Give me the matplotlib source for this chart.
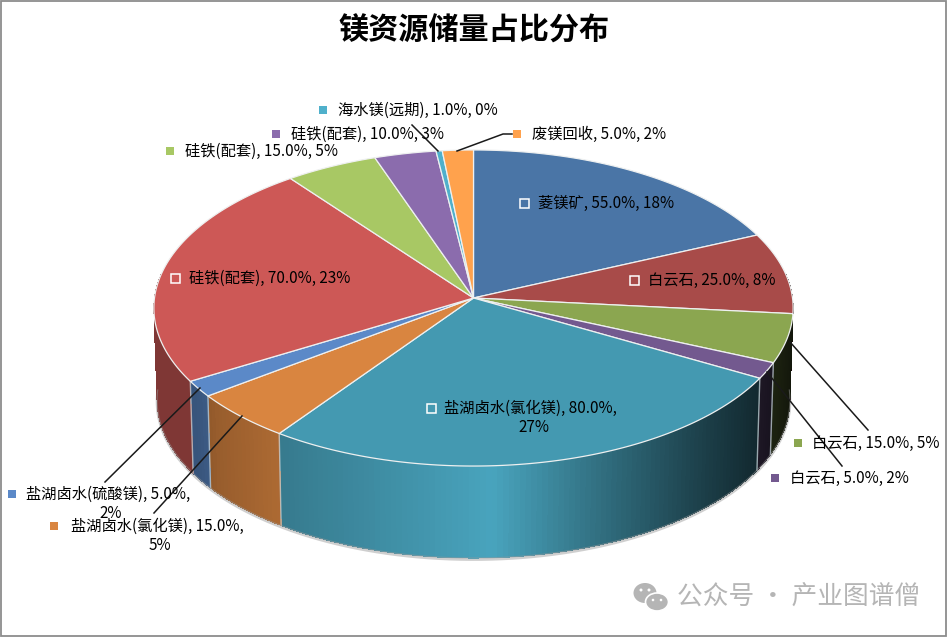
import matplotlib
matplotlib.use('Agg')
import matplotlib.pyplot as plt
from matplotlib.patches import Ellipse, Rectangle
import numpy as np

plt.rcParams['font.family'] = ['Noto Sans CJK SC', 'DejaVu Sans']

names = ['菱镁矿', '白云石', '白云石', '白云石', '盐湖卤水(氯化镁)', '盐湖卤水(氯化镁)',
         '盐湖卤水(硫酸镁)', '硅铁(配套)', '硅铁(配套)', '硅铁(配套)', '海水镁(远期)', '废镁回收']
values = [55, 25, 15, 5, 80, 15, 5, 70, 15, 10, 1, 5]
title = '镁资源储量占比分布'
watermark = '公众号 · 产业图谱僧'

colors = ['#4a75a6', '#a84b49', '#8ba650', '#73598f', '#4499b1', '#d98540',
          '#5b89c8', '#cd5856', '#a8c864', '#8b6cad', '#4fb0cb', '#ffa24d']

# key x, text x, y of first line, x of the wrapped line (None = one line)
label_pos = [(524, 538, 203, None), (634, 648, 280, None), (798, 812, 443, None),
             (775, 790, 478, None), (431, 444, 408, 534), (54, 71, 526, 160),
             (12, 26, 494, 111), (175, 189, 278, None), (170, 185, 151, None),
             (276, 291, 134, None), (323, 338, 110, None), (517, 532, 134, None)]
inside = [0, 1, 4, 7]

leaders = [[(457, 151), (503, 134), (512, 134)], [(412, 125), (438, 151)],
           [(790, 342), (868, 430)], [(767, 372), (842, 466)],
           [(200, 388), (105, 482)], [(242, 416), (154, 513)]]

# pie geometry in pixels, slight perspective
cx, cy = 473.5, 298
R, S, k = 319, 157.4, 0.0633
depth = 92

# side brightness across the pie
shade_x = [150, 195, 215, 280, 400, 490, 600, 700, 757, 775, 795]
shade_f = [0.62, 0.62, 0.70, 0.80, 0.95, 1.07, 0.72, 0.42, 0.27, 0.20, 0.13]


def ring(t, lower=False):
    u, v = np.sin(t), -np.cos(t)
    w = 1 - k * v
    x = cx + R * u / w
    y = cy + S * v / w
    if lower:
        x = cx + (x - cx) * 0.99
        y = y + depth
    return x, y


fig = plt.figure(figsize=(9.47, 6.37), dpi=100)
ax = fig.add_axes([0, 0, 1, 1])
ax.set_xlim(0, 947)
ax.set_ylim(637, 0)
ax.axis('off')

ax.add_patch(Rectangle((1, 1), 945, 635, fill=False, ec='#8c8c8c', lw=1.3))

total = sum(values)
edges = np.concatenate([[0], np.cumsum(values)]) / total * 2 * np.pi

# soft shadow under the front edge
ts = np.linspace(np.pi / 2, 3 * np.pi / 2, 200)
sx, sy = ring(ts, True)
ax.plot(sx, sy + 1.5, color='#b0b0b0', lw=2, alpha=0.6, zorder=1)

# side walls, each strip runs a bit past the next one so no seams show
for i, col in enumerate(colors):
    t0, t1 = edges[i], edges[i + 1]
    n = max(2, int((t1 - t0) * 60))
    tt = np.linspace(t0, t1, n + 1)
    rgb = np.array(matplotlib.colors.to_rgb(col))
    for a, b in zip(tt[:-1], tt[1:]):
        if -np.cos((a + b) / 2) < -0.15:
            continue
        xa, ya = ring(a)
        xb, yb = ring(min(b + 0.01, t1))
        xc, yc = ring(min(b + 0.01, t1), True)
        xd, yd = ring(a, True)
        f = np.interp((xa + xb) / 2, shade_x, shade_f)
        c = np.clip(rgb * f, 0, 1)
        ax.fill([xa, xb, xc, xd], [ya, yb, yc, yd], color=c, lw=0, antialiased=False, zorder=2)

for t in edges[:-1]:
    if -np.cos(t) > 0.1:
        x0, y0 = ring(t)
        x1, y1 = ring(t, True)
        ax.plot([x0, x1], [y0, y1], color='#c8d4da', lw=1, alpha=0.75, zorder=3)

# smooth the outline of the walls
ax.plot(sx, sy, color='#9a9a9a', lw=0.8, alpha=0.5, zorder=3)

# top face
for i, col in enumerate(colors):
    tt = np.linspace(edges[i], edges[i + 1], max(3, values[i] * 4))
    x, y = ring(tt)
    ax.fill(np.r_[cx, x], np.r_[cy, y], facecolor=col, edgecolor='#eef0f0', lw=0.9, zorder=4)

# leader lines
for pts in leaders:
    ax.plot([p[0] for p in pts], [p[1] for p in pts], color='#1a1a1a', lw=1.1, zorder=5)

# data labels
for i, (kx, tx, ty, wrap_x) in enumerate(label_pos):
    pct = round(values[i] / total * 100)
    if i in inside:
        ax.add_patch(Rectangle((kx - 4.5, ty - 4.5), 9, 9, fc=colors[i], ec='white', lw=1.1, zorder=6))
    else:
        ax.add_patch(Rectangle((kx - 4, ty - 4), 8, 8, fc=colors[i], ec='none', zorder=6))
    if wrap_x is None:
        ax.text(tx, ty, f'{names[i]}, {values[i]:.1f}%, {pct}%', fontsize=11,
                va='center', ha='left', color='black', zorder=7)
    else:
        ax.text(tx, ty, f'{names[i]}, {values[i]:.1f}%,', fontsize=11,
                va='center', ha='left', color='black', zorder=7)
        ax.text(wrap_x, ty + 20, f'{pct}%', fontsize=11,
                va='center', ha='center', color='black', zorder=7)

ax.text(474, 31, title, fontsize=21.7, fontweight='bold', ha='center', va='center', color='black')

# wechat mark and account name
ax.add_patch(Ellipse((645, 593), 23, 20, fc='#b5b5b5', ec='none', zorder=8))
ax.add_patch(Ellipse((657, 602), 23, 18, fc='#b5b5b5', ec='white', lw=1.2, zorder=9))
for ex, ey, r, z in [(641, 590, 3, 8), (649, 590, 3, 8), (653, 600, 2.6, 10), (661, 600, 2.6, 10)]:
    ax.add_patch(Ellipse((ex, ey), r, r, fc='white', ec='none', zorder=z + 1))
ax.text(677, 598, watermark, fontsize=18.5, color='#b5b5b5', fontweight='medium',
        ha='left', va='center', zorder=8)

fig.savefig('out.png', dpi=100)
